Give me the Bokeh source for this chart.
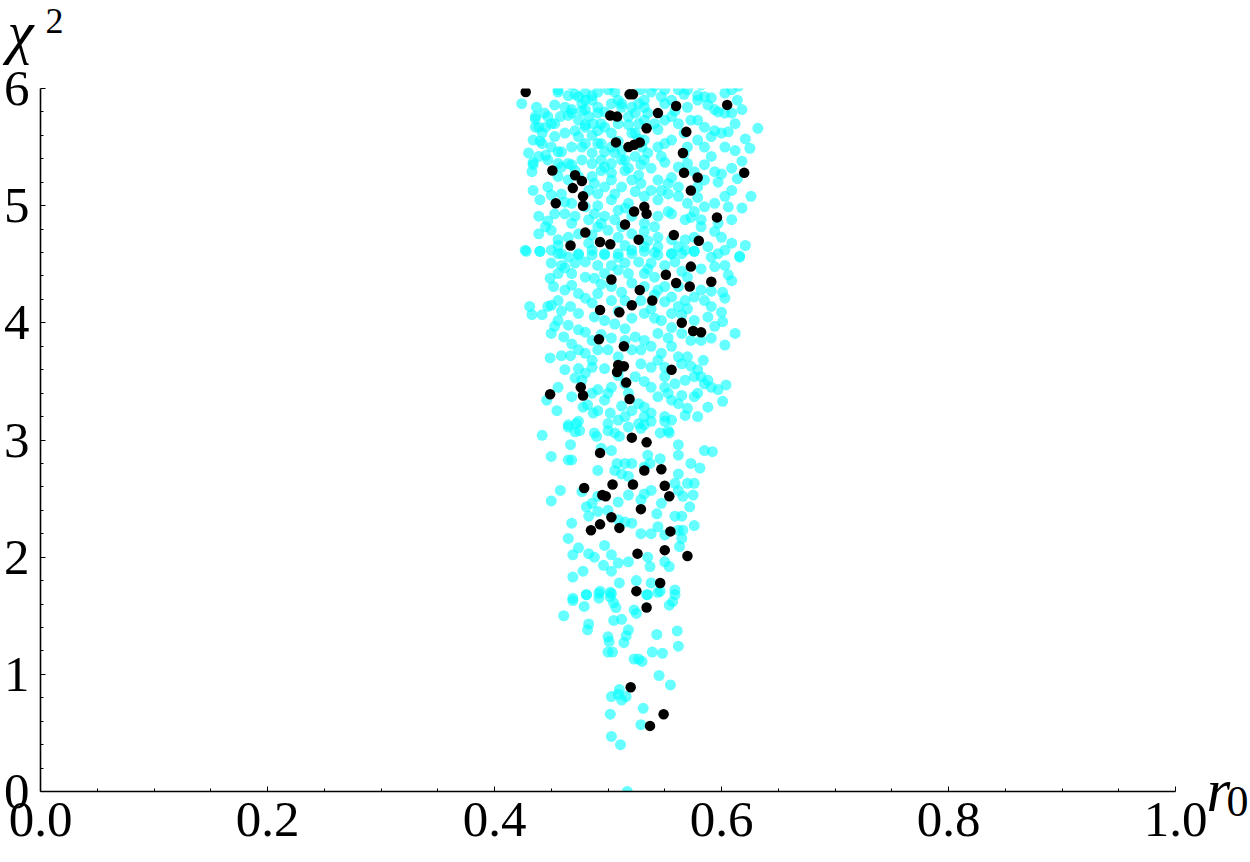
from bokeh.plotting import figure
from bokeh.models import Range1d, FixedTicker, NumeralTickFormatter, Label
from bokeh.embed import file_html
from bokeh.resources import INLINE

# ---------------- data (r0, chi^2) ----------------
x_major_ticks = [0.0, 0.2, 0.4, 0.6, 0.8, 1.0]
x_minor_ticks = [0.05, 0.1, 0.15, 0.25, 0.3, 0.35, 0.45, 0.5, 0.55, 0.65, 0.7, 0.75, 0.85, 0.9, 0.95]
y_major_ticks = [0, 1, 2, 3, 4, 5, 6]
y_minor_ticks = [0.2, 0.4, 0.6, 0.8, 1.2, 1.4, 1.6, 1.8, 2.2, 2.4, 2.6, 2.8, 3.2, 3.4, 3.6, 3.8,
                 4.2, 4.4, 4.6, 4.8, 5.2, 5.4, 5.6, 5.8]

# cyan cloud, upper band (chi^2 ~ 4.6 - 6)
cyan_x_a = [0.424,0.456,0.465,0.471,0.480,0.491,0.500,0.506,0.529,0.538,0.550,0.562,0.570,0.579,0.585,0.591,0.603,0.609,0.477,0.486,
            0.453,0.462,0.468,0.480,0.491,0.503,0.512,0.527,0.532,0.550,0.556,0.570,0.579,0.594,0.603,0.609,0.614,0.632,0.437,0.436,
            0.439,0.442,0.440,0.430,0.434,0.433,0.445,0.447,0.453,0.458,0.465,0.474,0.480,0.487,0.491,0.497,0.509,0.518,0.521,0.532,
            0.541,0.550,0.556,0.562,0.573,0.579,0.585,0.591,0.600,0.606,0.612,0.625,0.603,0.612,0.585,0.579,0.570,0.556,0.550,0.544,
            0.535,0.532,0.524,0.515,0.506,0.497,0.491,0.486,0.480,0.474,0.468,0.456,0.450,0.445,0.459,0.468,0.477,0.486,0.497,0.503,
            0.518,0.529,0.538,0.550,0.562,0.570,0.585,0.594,0.609,0.614,0.626,0.609,0.603,0.597,0.585,0.579,0.562,0.553,0.544,0.538,
            0.529,0.521,0.512,0.503,0.497,0.488,0.486,0.474,0.465,0.456,0.447,0.434,0.440,0.450,0.459,0.468,0.480,0.491,0.503,0.509,
            0.518,0.532,0.544,0.553,0.562,0.570,0.576,0.585,0.606,0.597,0.582,0.568,0.556,0.544,0.532,0.521,0.506,0.497,0.488,0.483,
            0.471,0.462,0.453,0.439,0.445,0.439,0.450,0.456,0.465,0.474,0.486,0.491,0.500,0.509,0.521,0.532,0.544,0.556,0.568,0.576,
            0.594,0.588,0.576,0.568,0.556,0.544,0.532,0.521,0.509,0.497,0.486,0.474,0.459,0.450,0.427,0.440,0.616,0.597,0.609]
cyan_y_a = [5.87,5.99,5.94,5.95,5.96,5.97,5.99,5.97,5.99,5.97,5.99,5.99,5.99,5.94,5.93,5.92,5.96,5.99,5.87,5.90,
            5.86,5.84,5.82,5.82,5.84,5.87,5.84,5.87,5.84,5.87,5.90,5.84,5.90,5.82,5.79,5.79,5.90,5.66,5.84,5.74,
            5.67,5.62,5.55,5.45,5.37,5.29,5.67,5.76,5.70,5.76,5.77,5.73,5.69,5.70,5.64,5.67,5.70,5.69,5.62,5.73,
            5.70,5.73,5.76,5.70,5.73,5.73,5.67,5.59,5.62,5.63,5.70,5.49,5.50,5.47,5.50,5.56,5.50,5.56,5.53,5.50,
            5.45,5.56,5.42,5.39,5.45,5.46,5.53,5.60,5.53,5.59,5.50,5.46,5.50,5.43,5.33,5.35,5.39,5.36,5.33,5.28,
            5.32,5.35,5.32,5.37,5.33,5.36,5.35,5.29,5.32,5.23,5.08,5.13,5.08,5.20,5.22,5.16,5.16,5.19,5.22,5.13,
            5.19,5.22,5.16,5.22,5.16,5.19,5.25,5.25,5.22,5.25,5.16,5.13,5.05,5.09,5.10,5.02,4.99,5.10,5.05,4.96,
            5.02,5.08,5.05,5.10,5.08,5.02,4.95,4.99,4.99,4.85,4.88,4.88,4.93,4.91,4.85,4.91,4.88,4.91,4.93,4.88,
            4.91,4.93,4.93,4.91,4.82,4.76,4.79,4.71,4.73,4.76,4.75,4.82,4.79,4.73,4.76,4.78,4.73,4.71,4.71,4.73,
            4.78,4.65,4.61,4.62,4.59,4.65,4.65,4.62,4.59,4.58,4.62,4.59,4.59,4.62,4.62,4.61,4.57,4.59,4.68]

# cyan cloud, extra points in the dense upper part
cyan_x_e = [0.456,0.474,0.480,0.486,0.512,0.521,0.436,0.444,0.450,0.468,
            0.477,0.483,0.491,0.494,0.480,0.471,0.462,0.453,0.436,0.434,
            0.442,0.459,0.477,0.486,0.494,0.503,0.512,0.439,0.447,0.456,
            0.465,0.494,0.503,0.512,0.434,0.524,0.527,0.532,0.535,0.524,
            0.530,0.532,
            0.547,0.559,0.567,0.588,0.597,0.618,0.544,0.567,0.594,0.621,
            0.547,0.567,0.591,0.618,0.556,0.576,0.600,0.547,0.579,0.594,
            0.618,0.553,0.573,0.609,0.541,0.582,0.600,0.621,0.535,0.562,
            0.603,
            0.509,0.497,0.518,0.503,0.527,0.509,0.515,0.494,0.471,0.527,
            0.483,0.506,0.524,0.462,0.491,0.515,0.447,0.468,0.494,0.512,
            0.456,0.483,0.515,0.541,
            0.468,0.503,0.541,0.582,0.615]
cyan_y_e = [5.97,5.93,5.90,5.94,5.87,5.84,5.76,5.79,5.70,5.79,
            5.81,5.76,5.79,5.70,5.67,5.64,5.62,5.59,5.67,5.56,
            5.53,5.46,5.50,5.45,5.53,5.50,5.47,5.42,5.39,5.36,
            5.36,5.39,5.36,5.39,5.35,5.79,5.70,5.90,5.79,5.62,
            5.50,5.39,
            5.93,5.81,5.95,5.86,5.80,5.82,5.65,5.62,5.64,5.57,
            5.42,5.44,5.42,5.38,5.24,5.29,5.27,5.13,5.07,5.02,
            4.98,4.95,4.90,4.88,4.82,4.82,4.73,4.66,4.70,4.65,
            4.62,
            5.90,5.80,5.76,5.62,5.57,5.55,5.30,5.30,5.30,5.26,
            5.13,5.10,5.12,5.03,5.00,4.98,4.87,4.85,4.85,4.82,
            4.66,4.68,4.66,4.60,
            6.03,6.03,6.02,6.03,6.02]

# cyan cloud, middle band (chi^2 ~ 3.1 - 4.6)
cyan_x_b = [0.428,0.440,0.456,0.465,0.474,0.486,0.497,0.509,0.521,0.532,
            0.544,0.556,0.565,0.576,0.591,0.616,0.450,0.459,0.471,0.480,
            0.491,0.503,0.515,0.527,0.538,0.550,0.559,0.570,0.582,0.594,
            0.603,0.606,0.609,0.456,0.449,0.468,0.480,0.488,0.497,0.518,
            0.532,0.541,0.550,0.562,0.582,0.601,0.603,0.468,0.474,0.480,
            0.491,0.503,0.512,0.521,0.532,0.544,0.556,0.568,0.576,0.585,
            0.452,0.462,0.456,0.450,0.431,0.433,0.442,0.447,0.467,0.474,
            0.486,0.503,0.515,0.529,0.550,0.562,0.570,0.591,0.456,0.453,
            0.450,0.461,0.465,0.474,0.480,0.488,0.497,0.506,0.515,0.521,
            0.532,0.541,0.547,0.556,0.565,0.576,0.588,0.594,0.601,0.612,
            0.486,0.503,0.515,0.524,0.532,0.544,0.553,0.565,0.573,0.582,
            0.603,0.449,0.459,0.467,0.474,0.480,0.486,0.491,0.500,0.509,
            0.521,0.529,0.538,0.547,0.556,0.562,0.570,0.584,0.474,0.480,
            0.486,0.497,0.529,0.538,0.544,0.550,0.565,0.579,0.582,0.588,
            0.471,0.477,0.491,0.500,0.503,0.515,0.524,0.532,0.538,0.550,
            0.550,0.559,0.568,0.565,0.576,0.579,0.585,0.591,0.597,0.604,
            0.601,0.446,0.455,0.468,0.486,0.497,0.518,0.527,0.532,0.544,
            0.556,0.562,0.576,0.588,0.465,0.474,0.478,0.487,0.491,0.502,
            0.509,0.515,0.521,0.532,0.538,0.550,0.556,0.568,0.579,
            0.462,0.509,0.535,0.565,0.494,0.541,0.591,0.459,0.509,0.538,
            0.600,0.468,0.494,0.556,0.591,0.462,0.512,0.573,0.456,0.509,
            0.553,0.482,0.512,0.570]
cyan_y_b = [4.61,4.61,4.59,4.56,4.58,4.58,4.59,4.56,4.59,4.61,
            4.58,4.59,4.59,4.61,4.56,4.56,4.51,4.49,4.51,4.52,
            4.49,4.49,4.51,4.52,4.51,4.49,4.52,4.39,4.46,4.48,
            4.49,4.41,4.36,4.42,4.38,4.42,4.39,4.38,4.42,4.42,
            4.42,4.39,4.31,4.31,4.28,4.26,4.21,4.32,4.25,4.21,
            4.25,4.31,4.26,4.34,4.31,4.28,4.22,4.19,4.22,4.19,
            4.31,4.28,4.19,4.15,4.14,4.07,4.07,4.14,4.14,4.08,
            4.17,4.19,4.19,4.19,4.18,4.14,4.12,4.14,4.02,3.97,
            3.91,3.88,3.98,3.94,3.92,4.05,4.02,3.99,3.95,4.04,
            4.08,4.04,4.02,4.08,4.07,4.02,4.05,3.97,4.01,3.91,
            3.85,3.87,3.85,3.88,3.85,3.91,3.87,3.91,3.85,3.85,
            3.81,3.70,3.72,3.72,3.77,3.74,3.68,3.77,3.77,3.71,
            3.77,3.77,3.80,3.74,3.80,3.71,3.71,3.68,3.61,3.57,
            3.62,3.61,3.65,3.62,3.68,3.62,3.65,3.60,3.54,3.51,
            3.53,3.51,3.43,3.40,3.45,3.48,3.54,3.50,3.45,3.54,
            3.45,3.48,3.51,3.38,3.54,3.40,3.48,3.45,3.43,3.47,
            3.33,3.34,3.25,3.37,3.40,3.34,3.40,3.31,3.28,3.37,
            3.34,3.31,3.37,3.28,3.13,3.16,3.28,3.23,3.25,3.23,
            3.17,3.20,3.25,3.20,3.23,3.20,3.17,3.21,3.20,
            4.47,4.45,4.46,4.44,4.33,4.24,4.27,4.10,4.10,4.12,
            4.09,3.82,3.90,3.96,3.87,3.60,3.62,3.63,3.45,3.55,
            3.40,3.30,3.29,3.27]

# cyan cloud, lower band (chi^2 ~ 1.6 - 3.2)
cyan_x_c = [0.442,0.465,0.472,0.471,0.475,0.488,0.490,0.500,0.500,0.506,
            0.510,0.518,0.527,0.529,0.532,0.538,0.546,0.553,0.554,0.550,
            0.562,0.585,0.592,0.467,0.468,0.465,0.450,0.491,0.494,0.503,
            0.508,0.515,0.521,0.506,0.512,0.518,0.532,0.535,0.537,0.546,
            0.562,0.573,0.581,0.562,0.570,0.576,0.559,0.562,0.566,0.572,
            0.575,0.565,0.559,0.547,0.543,0.538,0.532,0.529,0.518,0.509,
            0.491,0.486,0.481,0.477,0.458,0.450,0.468,0.483,0.491,0.500,
            0.509,0.515,0.521,0.529,0.538,0.544,0.550,0.562,0.566,0.576,
            0.565,0.563,0.465,0.474,0.469,0.483,0.488,0.497,0.503,0.509,
            0.518,0.496,0.503,0.478,0.469,0.510,0.535,0.537,0.550,0.554,
            0.538,0.546,0.559,0.535,0.525,0.493,0.503,0.481,0.469]
cyan_y_c = [3.04,3.11,3.14,3.07,3.08,3.06,3.03,3.14,3.08,3.06,
            3.03,3.11,3.14,3.10,3.13,3.16,3.06,3.08,3.06,3.16,
            2.96,2.91,2.90,2.96,2.83,2.83,2.86,2.74,2.93,2.91,
            2.80,2.80,2.80,2.74,2.71,2.69,2.77,2.87,2.80,2.84,
            2.87,2.80,2.76,2.71,2.63,2.63,2.63,2.57,2.52,2.43,
            2.53,2.35,2.35,2.46,2.37,2.57,2.54,2.49,2.53,2.47,
            2.52,2.46,2.43,2.56,2.57,2.48,2.29,2.35,2.39,2.40,
            2.32,2.30,2.29,2.20,2.20,2.26,2.19,2.23,2.23,2.27,
            2.16,2.09,2.16,2.08,2.02,2.03,2.00,2.10,2.02,1.95,
            1.96,1.93,1.88,1.88,1.83,1.78,2.00,1.92,1.96,1.92,
            1.78,1.71,1.72,1.68,1.80,1.71,1.69,1.68,1.65]

# cyan cloud, tail (chi^2 < 1.7)
cyan_x_d = [0.469,0.481,0.492,0.492,0.502,0.502,0.505,0.507,0.479,0.461,
            0.505,0.512,0.483,0.482,0.500,0.501,0.518,0.516,0.514,0.500,
            0.504,0.523,0.525,0.534,0.544,0.554,0.557,0.559,0.543,0.561,
            0.562,0.539,0.548,0.523,0.527,0.530,0.545,0.555,0.510,0.503,
            0.509,0.516,0.512,0.531,0.502,0.529,0.503,0.511,0.517]
cyan_y_d = [1.63,1.68,1.69,1.65,1.70,1.66,1.61,1.57,1.58,1.50,
            1.46,1.47,1.43,1.38,1.32,1.28,1.38,1.33,1.27,1.19,
            1.19,1.55,1.52,1.68,1.70,1.59,1.62,1.68,1.34,1.37,
            1.24,1.19,1.18,1.13,1.13,1.11,0.99,0.91,0.87,0.81,
            0.83,0.81,0.78,0.71,0.66,0.57,0.47,0.40,0.00]

# black points
black_x = [0.4275,0.519,0.522,0.560,0.605,0.544,0.502,0.508,0.534,0.569,
           0.507,0.518,0.523,0.528,0.566,0.451,0.471,0.477,0.567,0.620,
           0.579,0.469,0.573,0.478,0.454,0.478,0.523,0.532,0.534,0.596,
           0.515,0.480,0.558,0.527,0.580,0.493,0.502,0.467,0.573,0.551,
           0.560,0.572,0.591,0.503,0.528,0.539,0.521,0.493,0.510,0.565,
           0.575,0.582,0.492,0.514,0.509,0.514,0.508,0.556,0.516,0.476,
           0.478,0.449,0.519,0.521,0.534,0.493,0.532,0.547,0.479,0.504,
           0.522,0.550,0.495,0.498,0.554,0.529,0.503,0.493,0.485,0.510,
           0.555,0.550,0.526,0.570,0.546,0.525,0.534,0.520,0.549,0.537]
black_y = [5.97,5.95,5.95,5.85,5.86,5.79,5.77,5.76,5.66,5.63,
           5.54,5.50,5.52,5.54,5.45,5.30,5.26,5.21,5.28,5.28,
           5.24,5.15,5.13,5.08,5.02,5.00,4.95,4.99,4.93,4.90,
           4.84,4.77,4.75,4.71,4.70,4.69,4.67,4.66,4.48,4.41,
           4.34,4.31,4.35,4.37,4.28,4.19,4.15,4.11,4.09,4.00,
           3.93,3.92,3.86,3.80,3.64,3.63,3.58,3.60,3.49,3.45,
           3.38,3.39,3.35,3.02,2.98,2.89,2.74,2.75,2.59,2.62,
           2.62,2.61,2.53,2.52,2.52,2.41,2.34,2.28,2.23,2.25,
           2.22,2.06,2.03,2.01,1.78,1.71,1.57,0.89,0.66,0.56]

cyan_x = cyan_x_a + cyan_x_e + cyan_x_b + cyan_x_c + cyan_x_d
cyan_y = cyan_y_a + cyan_y_e + cyan_y_b + cyan_y_c + cyan_y_d

# ---------------- figure ----------------
SERIF = "Liberation Serif"

p = figure(width=1250, height=862, output_backend="svg", toolbar_location=None,
           x_range=Range1d(0, 1), y_range=Range1d(0, 6),
           min_border_left=38, min_border_right=75, min_border_top=88, min_border_bottom=71)
p.xgrid.visible = False
p.ygrid.visible = False
p.outline_line_color = None
p.background_fill_color = "white"
p.border_fill_color = "white"

p.xaxis.ticker = FixedTicker(ticks=x_major_ticks, minor_ticks=x_minor_ticks)
p.yaxis.ticker = FixedTicker(ticks=y_major_ticks, minor_ticks=y_minor_ticks)
p.xaxis.formatter = NumeralTickFormatter(format="0.0")

for ax in (p.xaxis[0], p.yaxis[0]):
    ax.axis_line_color = "black"
    ax.axis_line_width = 1.6
    ax.major_tick_line_color = "black"
    ax.minor_tick_line_color = "black"
    ax.major_tick_line_width = 1
    ax.minor_tick_line_width = 1
    ax.major_tick_in = 5
    ax.major_tick_out = 0
    ax.minor_tick_in = 3
    ax.minor_tick_out = 0
    ax.major_label_text_font = SERIF
    ax.major_label_text_font_size = "51px"
    ax.major_label_text_color = "black"
p.xaxis.major_label_standoff = 11
p.yaxis.major_label_standoff = 11

p.scatter(cyan_x, cyan_y, size=11, fill_color="#00ffff", fill_alpha=0.6, line_color=None)
p.scatter(black_x, black_y, size=10.5, fill_color="black", line_color=None)

# axis labels: placed in side panels so they are not clipped to the frame
p.add_layout(Label(x=-0.029, y=6.48, text="χ", text_font=SERIF, text_font_style="italic",
                   text_font_size="59px", text_color="black", text_align="left",
                   text_baseline="alphabetic"), "above")
p.add_layout(Label(x=0.0045, y=6.575, text="2", text_font=SERIF,
                   text_font_size="36px", text_color="black", text_align="left",
                   text_baseline="alphabetic"), "right")
p.add_layout(Label(x=1.0273, y=0.008, text="r", text_font=SERIF, text_font_style="italic",
                   text_font_size="61px", text_color="black", text_align="left",
                   text_baseline="alphabetic"), "right")
p.add_layout(Label(x=1.0449, y=-0.0875, text="0", text_font=SERIF,
                   text_font_size="44px", text_color="black", text_align="left",
                   text_baseline="alphabetic"), "right")

open("out.html", "w").write(file_html(p, INLINE))
